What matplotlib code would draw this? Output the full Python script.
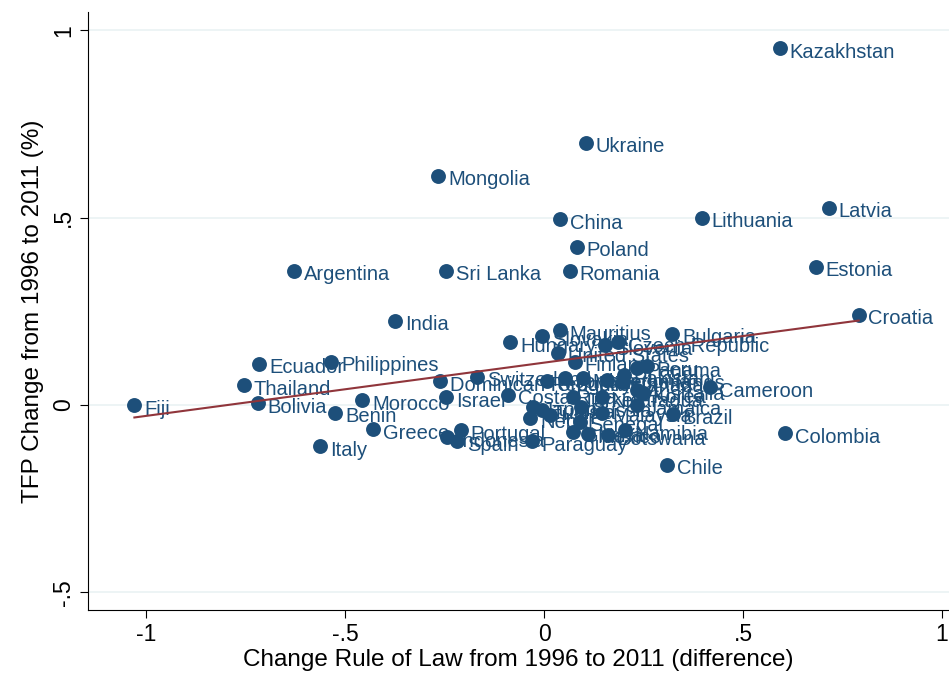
import matplotlib
matplotlib.use("Agg")
import matplotlib.pyplot as plt
import numpy as np

countries = ["Fiji","Thailand","Bolivia","Ecuador","Argentina","Philippines","Benin","Italy",
 "Morocco","Greece","India","Mongolia","Sri Lanka","Dominican Republic","Israel","Portugal",
 "Indonesia","Spain","Switzerland","Hungary","Costa Rica","Paraguay","China","Poland","Romania",
 "Ukraine","Kazakhstan","Lithuania","Latvia","Estonia","Croatia","Colombia","Chile","Mauritius",
 "Bulgaria","Slovakia","United States","Finland","Slovenia","Czech Republic","Panama","Peru",
 "Uruguay","Jordan","Macedonia","Netherlands","Canada","Australia","Korea","Turkey","Cameroon",
 "Japan","Tunisia","Nepal","Senegal","Malaysia","Jamaica","Brazil","Ghana","Mexico","Botswana",
 "Namibia","Iran","Nicaragua","Russia","Pakistan"]
rule_change = [-1.03,-0.754,-0.719,-0.716,-0.628,-0.535,-0.525,-0.563,-0.457,-0.43,-0.374,-0.266,
 -0.246,-0.261,-0.246,-0.209,-0.244,-0.219,-0.168,-0.085,-0.09,-0.03,0.04,0.083,0.065,0.106,0.593,
 0.397,0.716,0.683,0.791,0.606,0.309,0.04,0.322,-0.005,0.035,0.078,0.153,0.186,0.233,0.259,
 0.008,0.053,0.098,0.158,0.198,0.233,0.249,0.073,0.416,-0.028,-0.005,-0.035,0.09,0.146,0.233,
 0.324,0.073,0.11,0.16,0.203,0.015,0.145,0.093,0.2]
tfp_change = [0.0,0.053,0.005,0.11,0.358,0.115,-0.021,-0.11,0.013,-0.064,0.225,0.612,0.358,0.064,
 0.021,-0.067,-0.086,-0.096,0.075,0.168,0.027,-0.096,0.495,0.422,0.358,0.70,0.952,0.5,0.527,0.369,
 0.241,-0.075,-0.16,0.2,0.19,0.184,0.139,0.115,0.16,0.168,0.099,0.104,0.064,0.072,0.072,0.067,0.061,
 0.04,0.032,0.021,0.048,-0.005,-0.013,-0.035,-0.045,-0.021,0.0,-0.024,-0.072,-0.077,-0.08,-0.067,
 -0.026,0.02,-0.006,0.08]

navy = "#1d4f7a"
maroon = "#90353b"
plt.rcParams['font.family'] = ['Liberation Sans', 'DejaVu Sans']
fig = plt.figure(figsize=(9.49, 6.84), dpi=100)
ax = fig.add_axes([0.093, 0.108, 0.907, 0.875])
x = np.array(rule_change); y = np.array(tfp_change)
ax.scatter(x, y, s=115, color=navy, zorder=3, linewidths=0)
for c, xi, yi in zip(countries, x, y):
    ax.annotate(c, (xi, yi), xytext=(7, -3), textcoords="offset points", color=navy,
                fontsize=14.5, va="center", ha="left", zorder=4)
b, a = np.polyfit(x, y, 1)
xs = np.array([x.min(), x.max()])
ax.plot(xs, a + b*xs, color=maroon, lw=1.5, zorder=5)
ax.set_xlim(-1.146, 1.018)
ax.set_ylim(-0.548, 1.05)
ax.set_xticks([-1, -0.5, 0, 0.5, 1])
ax.set_xticklabels(["-1", "-.5", "0", ".5", "1"])
ax.set_yticks([-0.5, 0, 0.5, 1])
ax.set_yticklabels(["-.5", "0", ".5", "1"], rotation=90, va="center")
ax.tick_params(labelsize=16.5, length=6, colors="black")
ax.grid(axis="y", color="#eaf2f3", lw=1.2)
ax.set_axisbelow(True)
for s in ["top", "right"]:
    ax.spines[s].set_visible(False)
ax.set_xlabel("Change Rule of Law from 1996 to 2011 (difference)", fontsize=17.5, labelpad=2)
ax.set_ylabel("TFP Change from 1996 to 2011 (%)", fontsize=17.5, labelpad=6)
fig.savefig("out.png", dpi=100)
